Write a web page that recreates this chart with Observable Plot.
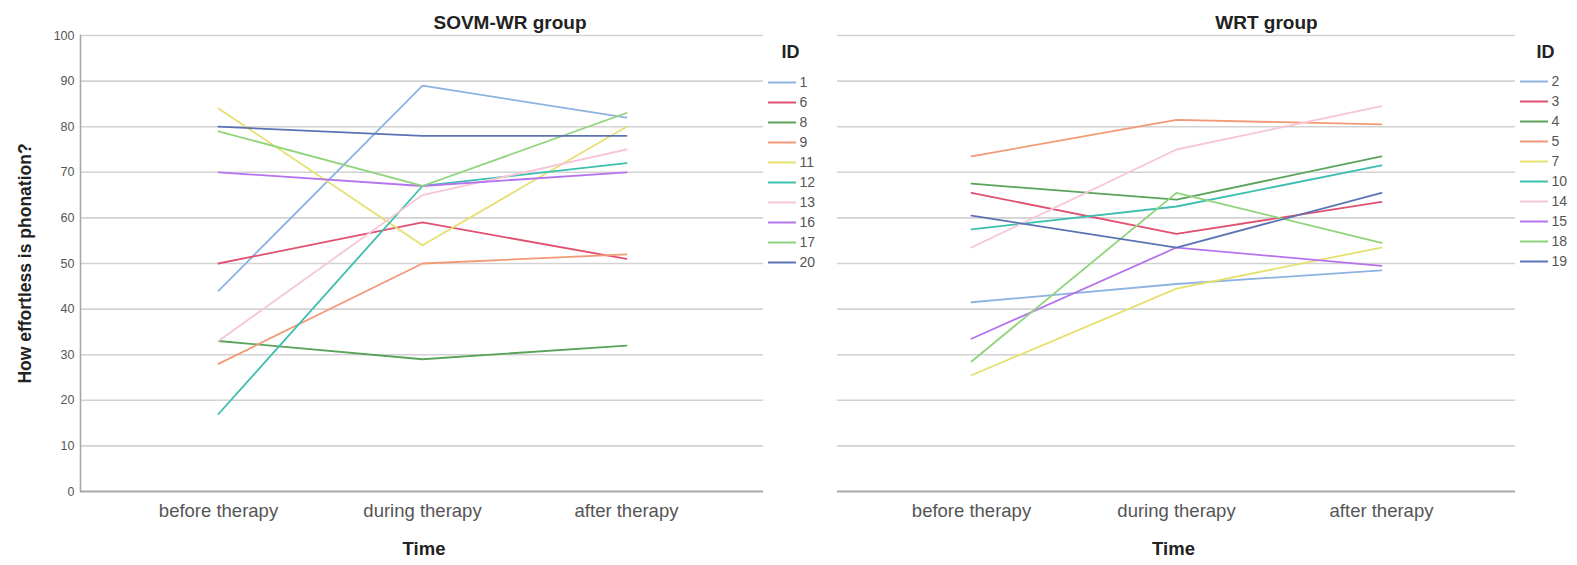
<!DOCTYPE html>
<html><head><meta charset="utf-8">
<script src="https://cdn.jsdelivr.net/npm/d3@7"></script>
<script src="https://cdn.jsdelivr.net/npm/@observablehq/plot@0.6"></script>
<style>
body{margin:0;background:#fff;}
#wrap{position:relative;width:1577px;height:565px;overflow:hidden;background:#fff;}
</style></head><body><div id="wrap"></div>
<script>
// ---- data ----
const times = ["before therapy", "during therapy", "after therapy"];
const yTicks = [0, 10, 20, 30, 40, 50, 60, 70, 80, 90, 100];

const sovmIds    = [1, 6, 8, 9, 11, 12, 13, 16, 17, 20];
const sovmBefore = [44, 50, 33, 28, 84, 17, 33, 70, 79, 80];
const sovmDuring = [89, 59, 29, 50, 54, 67, 65, 67, 67, 78];
const sovmAfter  = [82, 51, 32, 52, 80, 72, 75, 70, 83, 78];

const wrtIds    = [2, 3, 4, 5, 7, 10, 14, 15, 18, 19];
const wrtBefore = [41.5, 65.5, 67.5, 73.5, 25.5, 57.5, 53.5, 33.5, 28.5, 60.5];
const wrtDuring = [45.5, 56.5, 64, 81.5, 44.5, 62.5, 75, 53.5, 65.5, 53.5];
const wrtAfter  = [48.5, 63.5, 73.5, 80.5, 53.5, 71.5, 84.5, 49.5, 54.5, 65.5];

const palette = ["#8db3e2", "#e0506f", "#5aa35a", "#f29a76", "#e6e070",
                 "#3cbfae", "#f7c6d8", "#b574ee", "#8fd47a", "#5b73b4"];

const FONT = '"Liberation Sans", Arial, sans-serif';
const wrap = document.getElementById("wrap");

function place(svg, left, top) {
  svg.style.position = "absolute";
  svg.style.left = left + "px";
  svg.style.top = top + "px";
  svg.style.overflow = "visible";
  svg.style.fontFamily = FONT;
  svg.style.color = "#555";
  svg.style.background = "transparent";
  wrap.appendChild(svg);
}

function panel(o) {
  const rows = [];
  o.ids.forEach((id, i) => {
    rows.push({id, t: times[0], v: o.before[i]});
    rows.push({id, t: times[1], v: o.during[i]});
    rows.push({id, t: times[2], v: o.after[i]});
  });
  const marks = [
    Plot.ruleY(yTicks.filter(d => d > 0), {stroke: "#d2d2d2", strokeWidth: 1.6}),
    Plot.ruleY([0], {stroke: "#a8a8a8", strokeWidth: 2}),
    Plot.axisX({tickSize: 0, tickPadding: 12, fontSize: 18.5, label: null}),
    Plot.line(rows, {x: "t", y: "v", z: "id", stroke: "id", strokeWidth: 1.8}),
    Plot.text([o.title], {text: d => d, frameAnchor: "top", dx: o.titleDx, dy: -13,
      lineAnchor: "middle", fontSize: 19, fontWeight: "bold", fill: "#222"}),
    Plot.text(["Time"], {text: d => d, frameAnchor: "bottom", dx: o.timeDx, dy: 58,
      lineAnchor: "middle", fontSize: 18.5, fontWeight: "bold", fill: "#222"})
  ];
  if (o.showY) {
    marks.push(Plot.frame({anchor: "left", stroke: "#a8a8a8", strokeWidth: 1.6}));
    marks.push(Plot.axisY(yTicks, {tickSize: 0, tickPadding: 6, fontSize: 12.5, label: null}));
    marks.push(Plot.text(["How effortless is phonation?"], {text: d => d, frameAnchor: "left",
      dx: -55, rotate: -90, textAnchor: "middle", lineAnchor: "middle",
      fontSize: 17.5, fontWeight: "bold", fill: "#222"}));
  }
  const svg = Plot.plot({
    width: o.width, height: 565,
    marginLeft: o.mL, marginRight: o.mR, marginTop: 35, marginBottom: 74,
    x: {type: "point", domain: times, padding: o.pad, axis: null},
    y: {domain: [0, 100], axis: null},
    color: {type: "ordinal", domain: o.ids, range: palette},
    marks
  });
  place(svg, o.left, 0);
}

function legend(o) {
  const svg = Plot.plot({
    width: 60, height: 240, margin: 0,
    x: {domain: [0, 1], range: [3, 31], axis: null},
    y: {type: "point", domain: o.ids, range: [o.y0 - 40, o.y1 - 40], padding: 0, axis: null},
    color: {type: "ordinal", domain: o.ids, range: palette},
    marks: [
      Plot.ruleY(o.ids, {y: d => d, x1: 0, x2: 1, stroke: d => d, strokeWidth: 2}),
      Plot.text(o.ids, {y: d => d, x: 1, dx: 3, text: d => String(d), textAnchor: "start",
        fontSize: 14, fill: "#555"}),
      Plot.text(["ID"], {text: d => d, frameAnchor: "top-left", dx: o.idX, dy: 12,
        textAnchor: "middle", lineAnchor: "middle", fontSize: 18, fontWeight: "bold", fill: "#222"})
    ]
  });
  place(svg, o.left, 40);
}

panel({ids: sovmIds, before: sovmBefore, during: sovmDuring, after: sovmAfter,
  title: "SOVM-WR group", showY: true, left: 0, width: 775, mL: 80, mR: 12,
  pad: 0.67, titleDx: 88, timeDx: 2});
panel({ids: wrtIds, before: wrtBefore, during: wrtDuring, after: wrtAfter,
  title: "WRT group", showY: false, left: 800, width: 730, mL: 37, mR: 15,
  pad: 0.65, titleDx: 90, timeDx: -3});
legend({ids: sovmIds, left: 765, y0: 81, y1: 263, idX: 25});
legend({ids: wrtIds, left: 1517, y0: 78, y1: 263, idX: 28});
</script></body></html>
